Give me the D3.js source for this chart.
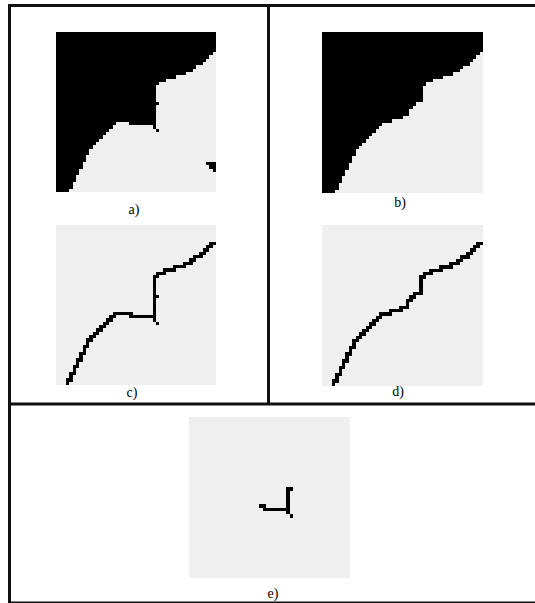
<!DOCTYPE html>
<html><head><meta charset="utf-8">
<script src="https://cdn.jsdelivr.net/npm/d3@7"></script>
<style>html,body{margin:0;padding:0;background:#fff;overflow:hidden}svg{display:block}</style>
</head><body>
<script>
// ---- data ----
const gridSize = 48;
// number of black rows (from the top) in each column of image a)
const boundaryA = [48,48,48,48,47,45,43,41,39,37,35,34,33,32,31,30,29,28,
                   27,27,27,27,28,28,28,28,28,28,28,29,16,
                   15,15,14,14,14,13,13,13,12,12,11,10,10,9,8,7,6];
// number of black rows (from the top) in each column of image b)
const boundaryB = [48,48,48,48,47,45,43,41,39,37,35,34,33,32,31,30,29,28,
                   27,27,27,26,26,26,25,25,23,22,21,21,16,
                   15,15,14,14,14,13,13,13,12,12,11,10,10,9,8,7,6];
// isolated extra black cells [col,row] in image a)
const extraA = [[30,21],[30,29],[45,39],[46,39],[47,39],[46,40],[47,40],[47,41]];
const extraB = [];
const panelLabels = ["a)","b)","c)","d)","e)"];

// ---- helpers ----
function buildMask(heights, extras){
  const m = d3.range(gridSize).map(r => d3.range(gridSize).map(c => r < heights[c]));
  extras.forEach(([c,r]) => { m[r][c] = true; });
  return m;
}
function mainComponent(mask){
  const out = mask.map(row => row.map(() => false));
  const stack = [[0,0]];
  out[0][0] = mask[0][0];
  while(stack.length){
    const [c,r] = stack.pop();
    for(let dr=-1; dr<=1; dr++) for(let dc=-1; dc<=1; dc++){
      const rr=r+dr, cc=c+dc;
      if(rr<0||cc<0||rr>=gridSize||cc>=gridSize) continue;
      if(mask[rr][cc] && !out[rr][cc]){ out[rr][cc]=true; stack.push([cc,rr]); }
    }
  }
  return out;
}
function edgeSet(mask){
  const s = new Set();
  for(let r=0;r<gridSize;r++) for(let c=0;c<gridSize;c++){
    if(!mask[r][c]) continue;
    let isEdge = false;
    for(let dr=-1; dr<=1; dr++) for(let dc=-1; dc<=1; dc++){
      const rr=r+dr, cc=c+dc;
      if(rr<0||cc<0||rr>=gridSize||cc>=gridSize) continue;
      if(!mask[rr][cc]) isEdge = true;
    }
    if(isEdge) s.add(c+","+r);
  }
  return s;
}
function maskCells(mask){
  const out=[];
  for(let r=0;r<gridSize;r++) for(let c=0;c<gridSize;c++) if(mask[r][c]) out.push([c,r]);
  return out;
}
const setCells = s => Array.from(s).map(k => k.split(",").map(Number));

const maskA = buildMask(boundaryA, extraA);
const maskB = buildMask(boundaryB, extraB);
const edgeA = edgeSet(mainComponent(maskA));
const edgeB = edgeSet(mainComponent(maskB));
const diff = new Set(Array.from(edgeA).filter(k => !edgeB.has(k)));

const panels = [
  {x:56,  y:32,  size:160, cells: maskCells(maskA), label: panelLabels[0], lx:134, ly:214},
  {x:322, y:32,  size:161, cells: maskCells(maskB), label: panelLabels[1], lx:400, ly:207},
  {x:56,  y:225, size:160, cells: setCells(edgeA),  label: panelLabels[2], lx:132, ly:397},
  {x:322, y:225, size:161, cells: setCells(edgeB),  label: panelLabels[3], lx:398, ly:396},
  {x:189, y:417, size:161, cells: setCells(diff),   label: panelLabels[4], lx:273, ly:598}
];

// ---- drawing ----
const svg = d3.select("body").append("svg").attr("width",535).attr("height",603);
svg.append("rect").attr("width",535).attr("height",603).attr("fill","#fff");

panels.forEach(p => {
  const sx = d3.scaleLinear().domain([0,gridSize]).range([p.x, p.x+p.size]);
  const sy = d3.scaleLinear().domain([0,gridSize]).range([p.y, p.y+p.size]);
  const X = v => Math.round(sx(v)), Y = v => Math.round(sy(v));
  const g = svg.append("g").attr("shape-rendering","crispEdges");
  g.append("rect").attr("x",X(0)).attr("y",Y(0))
    .attr("width",X(gridSize)-X(0)).attr("height",Y(gridSize)-Y(0)).attr("fill","#efefef");
  g.selectAll("rect.cell").data(p.cells).join("rect").attr("class","cell")
    .attr("x", d => X(d[0])).attr("y", d => Y(d[1]))
    .attr("width", d => X(d[0]+1)-X(d[0])).attr("height", d => Y(d[1]+1)-Y(d[1]))
    .attr("fill","#000");
  svg.append("text").attr("x",p.lx).attr("y",p.ly).attr("text-anchor","middle")
    .attr("font-family","'Liberation Serif', 'Times New Roman', serif").attr("font-size",14)
    .attr("fill","#000").text(p.label);
});

// frame
const frame = svg.append("g").attr("stroke","#111").attr("stroke-width",3).attr("fill","none");
frame.append("line").attr("x1",9.5).attr("y1",5.5).attr("x2",540).attr("y2",5.5);
frame.append("line").attr("x1",9.5).attr("y1",4).attr("x2",9.5).attr("y2",605);
frame.append("line").attr("x1",9.5).attr("y1",603).attr("x2",540).attr("y2",603);
frame.append("line").attr("x1",268.5).attr("y1",5.5).attr("x2",268.5).attr("y2",404);
frame.append("line").attr("x1",9.5).attr("y1",404).attr("x2",540).attr("y2",404);
</script>
</body></html>
